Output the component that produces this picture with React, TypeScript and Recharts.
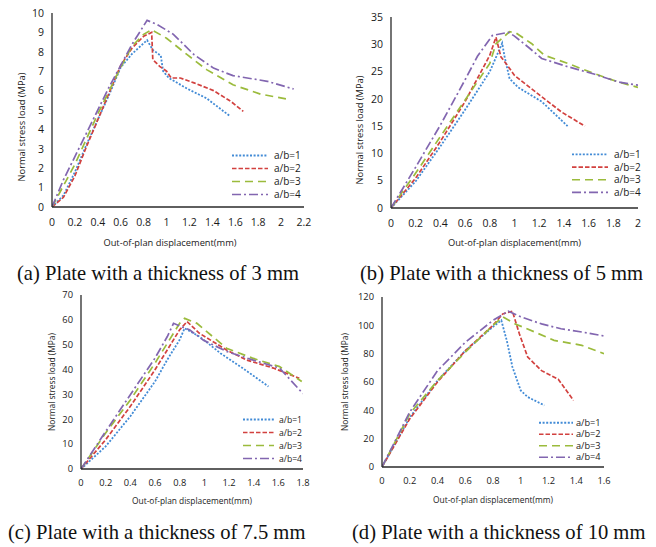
import React from "react";
import { LineChart, Line, XAxis, YAxis, Legend, Label } from "recharts";

// ---------- Data ----------
// (a) 3 mm
const a1 = [
  { x: 0, y: 0 }, { x: 0.1, y: 0.6 }, { x: 0.2, y: 1.8 }, { x: 0.3, y: 3.2 }, { x: 0.4, y: 4.5 },
  { x: 0.5, y: 5.8 }, { x: 0.6, y: 7.2 }, { x: 0.7, y: 7.9 }, { x: 0.83, y: 8.6 }, { x: 0.88, y: 8.1 },
  { x: 0.95, y: 7.8 }, { x: 0.97, y: 7.0 }, { x: 1.02, y: 6.65 }, { x: 1.18, y: 6.1 }, { x: 1.35, y: 5.6 },
  { x: 1.55, y: 4.7 },
];
const a2 = [
  { x: 0, y: 0 }, { x: 0.1, y: 0.5 }, { x: 0.2, y: 1.6 }, { x: 0.3, y: 3.1 }, { x: 0.4, y: 4.5 },
  { x: 0.5, y: 5.9 }, { x: 0.6, y: 7.3 }, { x: 0.7, y: 8.2 }, { x: 0.8, y: 8.8 }, { x: 0.87, y: 9.0 },
  { x: 0.88, y: 7.6 }, { x: 0.94, y: 7.25 }, { x: 1.0, y: 7.0 }, { x: 1.04, y: 6.65 }, { x: 1.12, y: 6.65 },
  { x: 1.24, y: 6.4 }, { x: 1.41, y: 6.0 }, { x: 1.56, y: 5.45 }, { x: 1.67, y: 4.93 },
];
const a3 = [
  { x: 0, y: 0 }, { x: 0.1, y: 1.1 }, { x: 0.2, y: 2.2 }, { x: 0.3, y: 3.5 }, { x: 0.4, y: 4.8 },
  { x: 0.5, y: 6.0 }, { x: 0.6, y: 7.2 }, { x: 0.7, y: 8.3 }, { x: 0.8, y: 8.9 }, { x: 0.87, y: 9.14 },
  { x: 1.0, y: 8.7 }, { x: 1.18, y: 7.85 }, { x: 1.35, y: 7.08 }, { x: 1.58, y: 6.3 }, { x: 1.82, y: 5.82 },
  { x: 2.08, y: 5.53 },
];
const a4 = [
  { x: 0, y: 0 }, { x: 0.1, y: 1.4 }, { x: 0.2, y: 2.6 }, { x: 0.3, y: 3.8 }, { x: 0.4, y: 5.0 },
  { x: 0.5, y: 6.2 }, { x: 0.6, y: 7.3 }, { x: 0.7, y: 8.4 }, { x: 0.83, y: 9.62 }, { x: 0.92, y: 9.4 },
  { x: 1.06, y: 8.9 }, { x: 1.24, y: 7.85 }, { x: 1.41, y: 7.16 }, { x: 1.58, y: 6.77 }, { x: 1.88, y: 6.48 },
  { x: 2.11, y: 6.08 },
];
// (b) 5 mm
const b1 = [
  { x: 0, y: 0 }, { x: 0.2, y: 4.9 }, { x: 0.4, y: 11.3 }, { x: 0.6, y: 18 }, { x: 0.8, y: 25 },
  { x: 0.9, y: 30.2 }, { x: 0.92, y: 27.7 }, { x: 0.96, y: 23.7 }, { x: 1.03, y: 22.1 }, { x: 1.22, y: 19.5 },
  { x: 1.43, y: 15 },
];
const b2 = [
  { x: 0, y: 0 }, { x: 0.2, y: 5.5 }, { x: 0.4, y: 12.2 }, { x: 0.6, y: 19.5 }, { x: 0.8, y: 28 },
  { x: 0.85, y: 31.3 }, { x: 0.89, y: 27.7 }, { x: 0.95, y: 25.9 }, { x: 1.0, y: 24.3 }, { x: 1.22, y: 20.4 },
  { x: 1.38, y: 17.6 }, { x: 1.57, y: 15 },
];
const b3 = [
  { x: 0, y: 0 }, { x: 0.2, y: 6.4 }, { x: 0.4, y: 13.1 }, { x: 0.6, y: 19.8 }, { x: 0.8, y: 26.5 },
  { x: 0.85, y: 30.1 }, { x: 0.96, y: 32.3 }, { x: 1.01, y: 32.1 }, { x: 1.14, y: 30.1 }, { x: 1.24, y: 28 },
  { x: 1.43, y: 26.5 }, { x: 1.65, y: 24.6 }, { x: 1.84, y: 23.1 }, { x: 2.0, y: 22.1 },
];
const b4 = [
  { x: 0, y: 0 }, { x: 0.2, y: 7.5 }, { x: 0.4, y: 15.2 }, { x: 0.6, y: 23.5 }, { x: 0.7, y: 27.8 },
  { x: 0.82, y: 31.6 }, { x: 0.95, y: 32.2 }, { x: 1.0, y: 31.5 }, { x: 1.11, y: 29.5 }, { x: 1.22, y: 27.4 },
  { x: 1.43, y: 25.9 }, { x: 1.65, y: 24.5 }, { x: 1.84, y: 23.1 }, { x: 2.0, y: 22.5 },
];
// (c) 7.5 mm
const c1 = [
  { x: 0, y: 0 }, { x: 0.2, y: 9.1 }, { x: 0.4, y: 21.2 }, { x: 0.6, y: 35.2 }, { x: 0.7, y: 44 },
  { x: 0.8, y: 52 }, { x: 0.84, y: 56.6 }, { x: 0.96, y: 53.3 }, { x: 1.13, y: 46.6 }, { x: 1.31, y: 40.6 },
  { x: 1.52, y: 33.2 },
];
const c2 = [
  { x: 0, y: 0 }, { x: 0.2, y: 11.8 }, { x: 0.4, y: 25.2 }, { x: 0.6, y: 39.9 }, { x: 0.8, y: 56 },
  { x: 0.86, y: 59.3 }, { x: 0.96, y: 54.6 }, { x: 1.18, y: 47.9 }, { x: 1.34, y: 43.9 }, { x: 1.56, y: 40.6 },
  { x: 1.77, y: 36.5 },
];
const c3 = [
  { x: 0, y: 0 }, { x: 0.2, y: 14.5 }, { x: 0.4, y: 27.8 }, { x: 0.6, y: 42.6 }, { x: 0.8, y: 58.6 },
  { x: 0.84, y: 60.6 }, { x: 0.94, y: 58.6 }, { x: 1.18, y: 48.6 }, { x: 1.39, y: 44.6 }, { x: 1.61, y: 41.2 },
  { x: 1.79, y: 35.2 },
];
const c4 = [
  { x: 0, y: 0 }, { x: 0.2, y: 15.1 }, { x: 0.4, y: 29.9 }, { x: 0.6, y: 44.6 }, { x: 0.7, y: 53.3 },
  { x: 0.75, y: 58.6 }, { x: 0.81, y: 57.3 }, { x: 0.88, y: 56 }, { x: 0.99, y: 51.9 }, { x: 1.18, y: 47.3 },
  { x: 1.39, y: 43.9 }, { x: 1.61, y: 40.6 }, { x: 1.8, y: 30.3 },
];
// (d) 10 mm
const d1 = [
  { x: 0, y: 0 }, { x: 0.2, y: 35 }, { x: 0.4, y: 61 }, { x: 0.6, y: 82 }, { x: 0.8, y: 99 },
  { x: 0.86, y: 103.5 }, { x: 0.9, y: 89 }, { x: 0.94, y: 70.6 }, { x: 1.0, y: 54 }, { x: 1.05, y: 49.4 },
  { x: 1.17, y: 43.5 },
];
const d2 = [
  { x: 0, y: 0 }, { x: 0.2, y: 34 }, { x: 0.4, y: 60 }, { x: 0.6, y: 82 }, { x: 0.8, y: 100 },
  { x: 0.87, y: 108 }, { x: 0.94, y: 110 }, { x: 0.99, y: 94 }, { x: 1.05, y: 77.6 }, { x: 1.15, y: 68 },
  { x: 1.27, y: 62 }, { x: 1.38, y: 47 },
];
const d3 = [
  { x: 0, y: 0 }, { x: 0.2, y: 37.6 }, { x: 0.4, y: 61 }, { x: 0.6, y: 81 }, { x: 0.8, y: 100 },
  { x: 0.87, y: 106 }, { x: 0.96, y: 101 }, { x: 1.1, y: 95.3 }, { x: 1.24, y: 89.4 }, { x: 1.44, y: 85.9 },
  { x: 1.6, y: 80 },
];
const d4 = [
  { x: 0, y: 0 }, { x: 0.2, y: 38.8 }, { x: 0.4, y: 68 }, { x: 0.6, y: 88 }, { x: 0.8, y: 103.5 },
  { x: 0.91, y: 110 }, { x: 1.0, y: 106 }, { x: 1.15, y: 101 }, { x: 1.29, y: 97.6 }, { x: 1.44, y: 95.3 },
  { x: 1.6, y: 92.5 },
];

const seriesNames = ["a/b=1", "a/b=2", "a/b=3", "a/b=4"];

const xTicksA = [0, 0.2, 0.4, 0.6, 0.8, 1, 1.2, 1.4, 1.6, 1.8, 2, 2.2];
const xTicksB = [0, 0.2, 0.4, 0.6, 0.8, 1, 1.2, 1.4, 1.6, 1.8, 2];
const xTicksC = [0, 0.2, 0.4, 0.6, 0.8, 1, 1.2, 1.4, 1.6, 1.8];
const xTicksD = [0, 0.2, 0.4, 0.6, 0.8, 1, 1.2, 1.4, 1.6];
const yTicksA = [0, 1, 2, 3, 4, 5, 6, 7, 8, 9, 10];
const yTicksB = [0, 5, 10, 15, 20, 25, 30, 35];
const yTicksC = [0, 10, 20, 30, 40, 50, 60, 70];
const yTicksD = [0, 20, 40, 60, 80, 100, 120];

const captions = [
  "(a) Plate with a thickness of 3 mm",
  "(b) Plate with a thickness of 5 mm",
  "(c) Plate with a thickness of 7.5 mm",
  "(d) Plate with a thickness of 10 mm",
];
const xTitle = "Out-of-plan displacement(mm)";
const yTitle = "Normal stress load (MPa)";

// ---------- Styles ----------
const STYLES = [
  { color: "#428bd6", dash: "2 1.6", width: 1.8 },
  { color: "#d2413f", dash: "4.5 2", width: 1.7 },
  { color: "#9bbb3c", dash: "8 5", width: 1.7 },
  { color: "#8266b0", dash: "9 3 2 3", width: 1.7 },
];
const SANS = "'Open Sans', 'Noto Sans', sans-serif";

type Pt = { x: number; y: number };
type PanelCfg = {
  left: number; top: number; width: number; height: number;
  yAxisW: number; mTop: number; mRight: number; xAxisH: number;
  xTicks: number[]; yTicks: number[]; xMax: number; yMax: number;
  series: Pt[][];
  tickFont: number; titleFont: number; legendFont: number;
  yTitlePos: [number, number]; xTitleDy: number; xTitleDx: number;
  legend: { left: number; top: number; row: number; lineLen: number; textGap: number };
};

const panels: PanelCfg[] = [
  {
    left: 0, top: 0, width: 328, height: 260, yAxisW: 52, mTop: 13, mRight: 24, xAxisH: 53,
    xTicks: xTicksA, yTicks: yTicksA, xMax: 2.2, yMax: 10, series: [a1, a2, a3, a4],
    tickFont: 10.5, titleFont: 9.3, legendFont: 10,
    yTitlePos: [22, 127], xTitleDy: 39, xTitleDx: -8,
    legend: { left: 232, top: 148, row: 13, lineLen: 36, textGap: 42 },
  },
  {
    left: 328, top: 0, width: 328, height: 260, yAxisW: 63, mTop: 17, mRight: 18, xAxisH: 52,
    xTicks: xTicksB, yTicks: yTicksB, xMax: 2, yMax: 35, series: [b1, b2, b3, b4],
    tickFont: 10.5, titleFont: 9.3, legendFont: 10,
    yTitlePos: [32, 130], xTitleDy: 38, xTitleDx: 0,
    legend: { left: 244, top: 147, row: 12.7, lineLen: 36, textGap: 42 },
  },
  {
    left: 0, top: 260, width: 328, height: 287, yAxisW: 81, mTop: 35, mRight: 25, xAxisH: 78,
    xTicks: xTicksC, yTicks: yTicksC, xMax: 1.8, yMax: 70, series: [c1, c2, c3, c4],
    tickFont: 9.3, titleFont: 8.4, legendFont: 8.6,
    yTitlePos: [52, 122], xTitleDy: 35, xTitleDx: 0,
    legend: { left: 243, top: 152, row: 13, lineLen: 31, textGap: 36 },
  },
  {
    left: 328, top: 260, width: 328, height: 287, yAxisW: 54, mTop: 37, mRight: 52, xAxisH: 80,
    xTicks: xTicksD, yTicks: yTicksD, xMax: 1.6, yMax: 120, series: [d1, d2, d3, d4],
    tickFont: 9.3, titleFont: 8.4, legendFont: 9.2,
    yTitlePos: [17, 122], xTitleDy: 36, xTitleDx: 0,
    legend: { left: 211, top: 155.5, row: 11.5, lineLen: 34, textGap: 37 },
  },
];

const captionPos: [number, number][] = [
  [17, 280],
  [360, 280],
  [8, 539],
  [352, 539],
];

function LegendBox({ cfg }: { cfg: PanelCfg }) {
  const L = cfg.legend;
  const h = L.row * 4 + 4;
  return (
    <svg width={L.lineLen + L.textGap + 34} height={h} style={{ display: "block", overflow: "visible" }}>
      {seriesNames.map((n, i) => {
        const cy = L.row / 2 + 1 + i * L.row;
        const s = STYLES[i];
        return (
          <g key={n}>
            <line x1={0} x2={L.lineLen} y1={cy} y2={cy} stroke={s.color} strokeWidth={s.width} strokeDasharray={s.dash} />
            <text x={L.textGap} y={cy} dy="0.35em" fontSize={cfg.legendFont} fontFamily={SANS} fill="#1a1a1a">
              {n}
            </text>
          </g>
        );
      })}
    </svg>
  );
}

function Panel({ cfg }: { cfg: PanelCfg }) {
  return (
    <div style={{ position: "absolute", left: cfg.left, top: cfg.top }}>
      <LineChart
        width={cfg.width}
        height={cfg.height}
        margin={{ top: cfg.mTop, right: cfg.mRight, left: 0, bottom: 0 }}
      >
        <XAxis
          type="number"
          dataKey="x"
          domain={[0, cfg.xMax]}
          ticks={cfg.xTicks}
          allowDataOverflow
          height={cfg.xAxisH}
          tickLine={false}
          tickSize={0}
          tickMargin={cfg.tickFont >= 10 ? 12 : 10}
          interval={0}
          axisLine={{ stroke: "#2a2a2a", strokeWidth: 1.3 }}
          tick={{ fontSize: cfg.tickFont, fontFamily: SANS, fill: "#1a1a1a" }}
        >
          <Label
            content={(p: any) => {
              const vb = p.viewBox || { x: 0, y: 0, width: 0 };
              return (
                <text
                  x={vb.x + vb.width / 2 + cfg.xTitleDx}
                  y={vb.y + cfg.xTitleDy}
                  textAnchor="middle"
                  fontSize={cfg.titleFont}
                  fontFamily={SANS}
                  fill="#1a1a1a"
                >
                  {xTitle}
                </text>
              );
            }}
          />
        </XAxis>
        <YAxis
          type="number"
          domain={[0, cfg.yMax]}
          ticks={cfg.yTicks}
          allowDataOverflow
          width={cfg.yAxisW}
          tickLine={false}
          tickSize={0}
          tickMargin={8}
          interval={0}
          axisLine={{ stroke: "#2a2a2a", strokeWidth: 1.3 }}
          tick={{ fontSize: cfg.tickFont, fontFamily: SANS, fill: "#1a1a1a" }}
        >
          <Label
            content={() => (
              <text
                x={cfg.yTitlePos[0]}
                y={cfg.yTitlePos[1]}
                transform={`rotate(-90 ${cfg.yTitlePos[0]} ${cfg.yTitlePos[1]})`}
                textAnchor="middle"
                dy="0.35em"
                fontSize={cfg.titleFont}
                fontFamily={SANS}
                fill="#1a1a1a"
              >
                {yTitle}
              </text>
            )}
          />
        </YAxis>
        <Legend
          layout="vertical"
          align="center"
          verticalAlign="middle"
          wrapperStyle={{ left: cfg.legend.left, top: cfg.legend.top, width: "auto", height: "auto" }}
          content={() => <LegendBox cfg={cfg} />}
        />
        {cfg.series.map((d, i) => (
          <Line
            key={seriesNames[i]}
            name={seriesNames[i]}
            data={d}
            dataKey="y"
            type="linear"
            stroke={STYLES[i].color}
            strokeWidth={STYLES[i].width}
            strokeDasharray={STYLES[i].dash}
            dot={false}
            activeDot={false}
            isAnimationActive={false}
          />
        ))}
      </LineChart>
    </div>
  );
}

export default function App() {
  return (
    <div style={{ position: "absolute", left: 0, top: 0, width: 656, height: 547, background: "#fff", overflow: "hidden" }}>
      {panels.map((p, i) => (
        <Panel key={i} cfg={p} />
      ))}
      <svg width={656} height={547} style={{ position: "absolute", left: 0, top: 0, pointerEvents: "none" }}>
        {captions.map((c, i) => (
          <text
            key={c}
            x={captionPos[i][0]}
            y={captionPos[i][1]}
            fontSize={20.6}
            fontFamily="'Liberation Serif', 'Times New Roman', serif"
            fill="#111"
          >
            {c}
          </text>
        ))}
      </svg>
    </div>
  );
}
